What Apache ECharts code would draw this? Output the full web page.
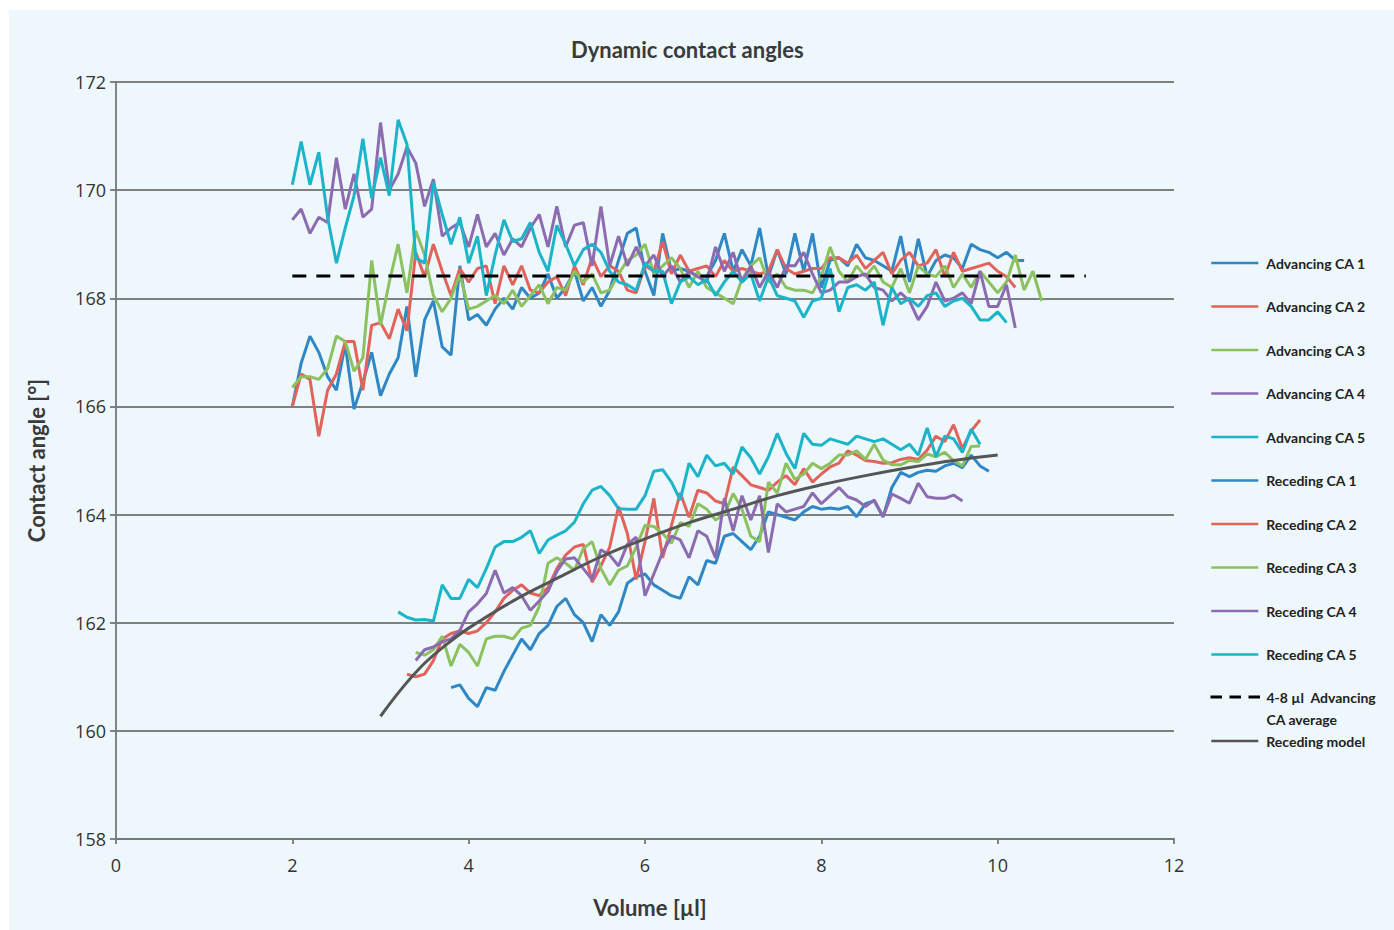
<!DOCTYPE html>
<html>
<head>
<meta charset="utf-8">
<script src="https://cdn.jsdelivr.net/npm/echarts@6/dist/echarts.min.js"></script>
<style>
html,body{margin:0;padding:0;background:#ffffff;}
#chart{width:1394px;height:930px;}
</style>
</head>
<body>
<div id="chart"></div>
<script>
// ---- data ----
const volumes = [2.0,2.1,2.2,2.3,2.4,2.5,2.6,2.7,2.8,2.9,
  3.0,3.1,3.2,3.3,3.4,3.5,3.6,3.7,3.8,3.9,
  4.0,4.1,4.2,4.3,4.4,4.5,4.6,4.7,4.8,4.9,
  5.0,5.1,5.2,5.3,5.4,5.5,5.6,5.7,5.8,5.9,
  6.0,6.1,6.2,6.3,6.4,6.5,6.6,6.7,6.8,6.9,
  7.0,7.1,7.2,7.3,7.4,7.5,7.6,7.7,7.8,7.9,
  8.0,8.1,8.2,8.3,8.4,8.5,8.6,8.7,8.8,8.9,
  9.0,9.1,9.2,9.3,9.4,9.5,9.6,9.7,9.8,9.9,
  10.0,10.1,10.2,10.3,10.4,10.5];

const advancingCA1Start = 2.0;
const advancingCA1 = [166.0,166.8,167.3,167.0,166.55,166.3,167.15,165.95,166.45,167.0,
  166.2,166.6,166.9,167.85,166.55,167.6,167.95,167.1,166.95,168.6,
  167.6,167.7,167.5,167.8,168.0,167.8,168.2,168.0,168.1,168.45,
  168.0,168.2,168.5,167.95,168.2,167.85,168.15,168.7,169.2,169.3,
  168.5,168.05,169.2,168.5,168.55,168.5,168.4,168.4,168.7,169.2,
  168.5,168.9,168.6,169.3,168.4,168.9,168.45,169.2,168.5,169.2,
  168.2,168.7,168.75,168.6,169.0,168.75,168.7,168.6,168.5,169.15,
  168.3,169.1,168.4,168.7,168.8,168.75,168.55,169.0,168.9,168.85,
  168.75,168.85,168.7,168.7];

const advancingCA2Start = 2.0;
const advancingCA2 = [166.0,166.6,166.5,165.45,166.3,166.6,167.2,167.2,166.3,167.5,
  167.55,167.25,167.8,167.4,168.85,168.4,169.0,168.5,168.05,168.55,
  168.3,168.55,168.6,167.9,168.6,168.25,168.6,168.15,168.1,168.3,
  168.4,168.05,168.6,168.25,168.75,168.4,168.6,168.5,168.15,168.1,
  168.6,168.5,169.05,168.45,168.8,168.5,168.55,168.6,168.4,168.7,
  168.5,168.55,168.5,168.45,168.5,168.9,168.55,168.45,168.5,168.55,
  168.55,168.75,168.75,168.65,168.8,168.55,168.7,168.85,168.45,168.7,
  168.85,168.6,168.65,168.9,168.4,168.85,168.5,168.55,168.6,168.65,
  168.5,168.4,168.2];

const advancingCA3Start = 2.0;
const advancingCA3 = [166.35,166.55,166.55,166.5,166.7,167.3,167.2,166.65,166.9,168.7,
  167.5,168.3,169.0,168.1,169.25,168.8,168.05,167.75,168.0,168.45,
  167.8,167.85,167.95,168.05,167.9,168.15,167.85,168.05,168.25,167.9,
  168.2,168.15,168.5,168.3,168.45,168.1,168.15,168.45,168.7,168.8,
  169.0,168.45,168.6,168.75,168.55,168.2,168.5,168.2,168.1,168.0,
  167.9,168.35,168.6,168.75,168.3,168.45,168.2,168.15,168.15,168.1,
  168.4,168.95,168.5,168.3,168.6,168.4,168.6,168.3,168.2,168.55,
  168.1,168.6,168.45,168.4,168.6,168.2,168.45,168.2,168.5,168.3,
  168.1,168.3,168.8,168.15,168.5,167.95];

const advancingCA4Start = 2.0;
const advancingCA4 = [169.45,169.65,169.2,169.5,169.4,170.6,169.65,170.3,169.5,169.65,
  171.25,170.0,170.3,170.8,170.5,169.7,170.2,169.15,169.3,169.4,
  168.95,169.55,168.95,169.2,168.8,169.1,168.95,169.3,169.55,168.95,
  169.7,168.95,169.35,169.4,168.6,169.7,168.6,169.15,168.6,168.95,
  168.6,168.8,168.4,168.6,168.3,168.5,168.4,168.3,168.95,168.5,
  168.85,168.3,168.6,168.2,168.5,168.2,168.6,168.6,168.85,168.45,
  168.1,168.15,168.3,168.3,168.4,168.45,168.2,168.15,167.95,168.1,
  167.95,167.6,167.85,168.3,167.95,168.0,168.1,167.9,168.5,167.85,
  167.85,168.25,167.45];

const advancingCA5Start = 2.0;
const advancingCA5 = [170.1,170.9,170.1,170.7,169.5,168.65,169.3,169.9,170.95,169.85,
  170.6,169.9,171.3,170.85,168.75,168.65,170.15,169.55,169.0,169.5,
  168.65,169.15,168.05,168.8,169.45,169.05,169.1,169.4,168.85,168.5,
  169.35,169.0,168.6,168.9,169.0,168.85,168.5,168.3,168.25,168.15,
  168.65,168.5,168.5,167.9,168.3,168.4,168.25,168.35,168.05,168.3,
  168.5,168.3,168.45,167.95,168.4,168.05,168.0,167.95,167.65,167.95,
  168.0,168.55,167.75,168.2,168.25,168.15,168.3,167.5,168.2,167.9,
  168.0,167.85,168.05,168.1,167.85,167.95,168.0,167.85,167.6,167.6,
  167.75,167.55];

const recedingCA1Start = 3.8;
const recedingCA1 = [160.8,160.85,
  160.6,160.45,160.8,160.75,161.1,161.4,161.7,161.5,161.8,161.95,
  162.3,162.45,162.15,162.0,161.65,162.15,161.95,162.2,162.73,162.85,
  162.9,162.7,162.6,162.5,162.45,162.85,162.7,163.15,163.1,163.6,
  163.65,163.5,163.35,163.6,164.05,164.0,163.95,163.9,164.05,164.15,
  164.1,164.12,164.1,164.15,163.96,164.2,164.25,163.96,164.5,164.78,
  164.7,164.78,164.82,164.8,164.9,164.95,164.87,165.1,164.9,164.8];

const recedingCA2Start = 3.3;
const recedingCA2 = [161.05,161.0,161.05,161.3,161.7,161.8,161.85,
  161.8,161.85,162.0,162.2,162.45,162.6,162.7,162.55,162.5,162.65,
  163.0,163.25,163.4,163.45,162.75,163.05,163.4,164.15,163.65,162.8,
  163.5,164.3,163.2,163.8,164.4,163.95,164.45,164.4,164.25,164.2,
  164.88,164.72,164.55,164.5,164.45,164.6,164.72,164.55,164.85,164.6,
  164.75,164.88,164.95,165.18,165.1,165.0,164.98,164.95,164.96,165.02,
  165.05,165.02,165.19,165.45,165.35,165.66,165.22,165.55,165.75];

const recedingCA3Start = 3.4;
const recedingCA3 = [161.45,161.4,161.5,161.75,161.2,161.6,
  161.45,161.2,161.7,161.75,161.75,161.7,161.9,161.95,162.3,163.1,
  163.2,163.1,162.97,163.37,163.5,163.0,162.7,162.97,163.05,163.4,
  163.8,163.78,163.65,163.47,163.85,163.78,164.2,164.1,163.9,164.0,
  164.39,164.1,163.6,163.5,164.6,164.4,164.95,164.65,164.75,164.95,
  164.85,164.95,165.1,165.1,165.18,165.02,165.3,165.01,164.92,164.92,
  165.0,164.98,165.12,165.07,165.15,165.0,164.9,165.26,165.27];

const recedingCA4Start = 3.4;
const recedingCA4 = [161.3,161.5,161.55,161.65,161.7,161.86,
  162.2,162.35,162.54,162.97,162.55,162.65,162.5,162.23,162.4,162.58,
  162.95,163.18,163.2,163.0,162.8,163.35,163.25,163.05,163.45,163.58,
  162.5,162.9,163.3,163.6,163.53,163.2,163.7,163.6,163.2,164.3,
  163.7,164.35,163.9,164.35,163.3,164.2,164.05,164.1,164.15,164.4,
  164.2,164.35,164.5,164.33,164.27,164.15,164.27,163.96,164.38,164.3,
  164.21,164.58,164.33,164.3,164.3,164.36,164.25];

const recedingCA5Start = 3.2;
const recedingCA5 = [162.2,162.1,162.05,162.06,162.03,162.7,162.45,162.45,
  162.8,162.65,163.0,163.4,163.5,163.5,163.58,163.7,163.28,163.53,
  163.62,163.7,163.86,164.2,164.45,164.52,164.35,164.11,164.1,164.1,
  164.35,164.8,164.83,164.6,164.27,164.95,164.7,165.1,164.9,164.95,
  164.75,165.25,165.05,164.75,165.07,165.5,165.13,164.85,165.5,165.3,
  165.28,165.4,165.35,165.3,165.45,165.4,165.35,165.4,165.3,165.2,
  165.3,165.1,165.6,165.07,165.45,165.4,165.15,165.58,165.3];

const averageVolumes = [2.0, 11.0];
const averageAngle = 168.41;

const modelVolumes = [3.0,3.25,3.5,3.75,4.0,4.5,5.0,5.5,6.0,6.5,7.0,7.5,8.0,8.5,9.0,9.5,10.0];
const modelAngles = [160.27,160.8,161.25,161.6,161.9,162.4,162.82,163.22,163.55,163.85,164.1,164.35,164.55,164.72,164.87,165.0,165.1];

const xTicks = [0, 2, 4, 6, 8, 10, 12];
const yTicks = [158, 160, 162, 164, 166, 168, 170, 172];

const seriesNames = ['Advancing CA 1','Advancing CA 2','Advancing CA 3','Advancing CA 4','Advancing CA 5',
  'Receding CA 1','Receding CA 2','Receding CA 3','Receding CA 4','Receding CA 5'];
const averageName = '4-8 µl  Advancing CA average';
const averageLegendLines = ['4-8 µl  Advancing', 'CA average'];
const modelName = 'Receding model';

// ---- build ----
function pairs(start, values) {
  const i0 = volumes.indexOf(start);
  return values.map((v, i) => [volumes[i0 + i], v]);
}
const palette = ['#2f88c5', '#e2635c', '#8cc160', '#8d6bb0', '#1cb4c8'];
const measured = [
  [advancingCA1Start, advancingCA1], [advancingCA2Start, advancingCA2], [advancingCA3Start, advancingCA3],
  [advancingCA4Start, advancingCA4], [advancingCA5Start, advancingCA5],
  [recedingCA1Start, recedingCA1], [recedingCA2Start, recedingCA2], [recedingCA3Start, recedingCA3],
  [recedingCA4Start, recedingCA4], [recedingCA5Start, recedingCA5]
];
const series = measured.map((m, k) => ({
  name: seriesNames[k],
  type: 'line',
  data: pairs(m[0], m[1]),
  symbol: 'none',
  showSymbol: false,
  color: palette[k % 5],
  lineStyle: { width: 3, color: palette[k % 5] },
  z: 2
}));
series.push({
  name: averageName,
  type: 'line',
  data: averageVolumes.map(v => [v, averageAngle]),
  symbol: 'none',
  color: '#000',
  lineStyle: { width: 3, color: '#000', type: [14, 10] },
  z: 4
});
series.push({
  name: modelName,
  type: 'line',
  data: modelVolumes.map((v, i) => [v, modelAngles[i]]),
  symbol: 'none',
  smooth: 0.4,
  color: '#555555',
  lineStyle: { width: 3, color: '#555555' },
  z: 5
});

const legendText = { fontFamily: 'Lato', fontWeight: 'bold', fontSize: 14, color: '#222', lineHeight: 22, padding: [0, 0, 0, 3] };
const legendCommon = {
  orient: 'vertical', left: 1205, itemWidth: 47, itemHeight: 14, itemGap: 21.5,
  textStyle: legendText, selectedMode: false,
  itemStyle: { opacity: 0 },
  lineStyle: { width: 2.6 }
};

const chart = echarts.init(document.getElementById('chart'), null, { renderer: 'svg' });
chart.setOption({
  animation: false,
  backgroundColor: '#ffffff',
  graphic: [{
    type: 'rect', z: -10, silent: true,
    shape: { x: 9, y: 10, width: 1385, height: 920 },
    style: { fill: '#eef7fb' }
  }],
  title: {
    text: 'Dynamic contact angles',
    left: 566, top: 33,
    textStyle: { fontFamily: 'Lato', fontWeight: 'bold', fontSize: 22, color: '#3a3a3a' }
  },
  grid: { left: 116, right: 220, top: 82, bottom: 91, containLabel: false },
  legend: [
    Object.assign({}, legendCommon, { top: 247, data: seriesNames }),
    Object.assign({}, legendCommon, {
      top: 659, data: [averageName], itemWidth: 50, left: 1204,
      lineStyle: { width: 3, type: [11.5, 7.5] },
      textStyle: Object.assign({}, legendText, { padding: [0, 0, 0, 1] }),
      formatter: () => ' \n' + averageLegendLines.join('\n')
    }),
    Object.assign({}, legendCommon, { top: 725, data: [modelName] })
  ],
  xAxis: {
    type: 'value', min: xTicks[0], max: xTicks[xTicks.length - 1], interval: 2,
    name: 'Volume [µl]', nameLocation: 'middle', nameGap: 57,
    nameTextStyle: { fontFamily: 'Lato', fontWeight: 'bold', fontSize: 22, color: '#3a3a3a', padding: [0, 0, 0, 10] },
    axisLine: { show: true, lineStyle: { color: '#777777', width: 1.8 } },
    axisTick: { show: true, length: 5, lineStyle: { color: '#777777', width: 1.8 } },
    axisLabel: { fontFamily: 'Open Sans', fontSize: 18, color: '#333', margin: 17 },
    splitLine: { show: false }
  },
  yAxis: {
    type: 'value', min: yTicks[0], max: yTicks[yTicks.length - 1], interval: 2,
    name: 'Contact angle [°]', nameLocation: 'middle', nameGap: 69,
    nameTextStyle: { fontFamily: 'Lato', fontWeight: 'bold', fontSize: 22, color: '#3a3a3a' },
    axisLine: { show: true, lineStyle: { color: '#777777', width: 1.8 } },
    axisTick: { show: true, length: 6, lineStyle: { color: '#777777', width: 1.8 } },
    axisLabel: { fontFamily: 'Open Sans', fontSize: 18, color: '#333', margin: 10 },
    splitLine: { show: true, lineStyle: { color: '#808080', width: 1.8 } }
  },
  series: series
});
</script>
</body>
</html>
